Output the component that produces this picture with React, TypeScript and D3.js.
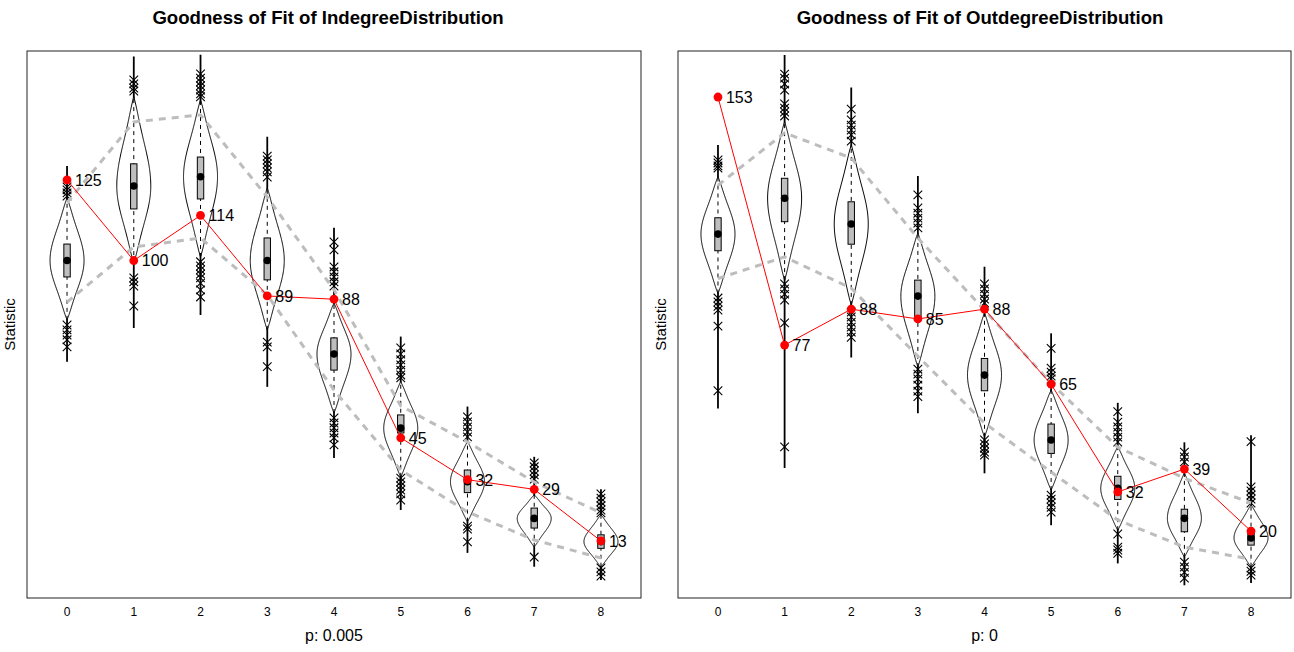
import React from 'react';
import * as d3 from 'd3';

const categories = ['0', '1', '2', '3', '4', '5', '6', '7', '8'];
const categoryValues = [0, 1, 2, 3, 4, 5, 6, 7, 8];

// ---- Indegree distribution ----
const inTitle = 'Goodness of Fit of IndegreeDistribution';
const inXLabel = 'p: 0.005';
const inYDomain = [-4.7, 165.0];
const inObserved = [125, 100, 114, 89, 88, 45, 32, 29, 13];
const inRangeLow = [68.6, 79.1, 83.1, 60.8, 38.7, 22.6, 9.3, 5.0, 0.9];
const inRangeHigh = [129.3, 163.3, 163.8, 138.4, 110.2, 76.4, 54.7, 39.1, 29.0];
const inViolinLow = [81.6, 99.2, 101.1, 78.5, 52.7, 32.9, 19.0, 11.2, 5.0];
const inViolinHigh = [119.4, 150.8, 149.8, 122.5, 86.8, 62.4, 43.8, 27.3, 21.1];
const inQ1 = [94.9, 116.0, 119.1, 94.0, 66.0, 46.5, 28.0, 17.0, 10.7];
const inMedian = [100.0, 123.1, 126.0, 100.0, 71.0, 48.0, 31.4, 20.0, 12.8];
const inQ3 = [105.1, 130.0, 132.1, 107.0, 76.0, 52.1, 35.0, 23.2, 14.9];
const inUpperBand = [117.9, 143.0, 145.2, 119.7, 90.9, 54.9, 43.7, 31.3, 21.7];
const inLowerBand = [87.1, 104.2, 107.0, 89.3, 59.8, 35.0, 22.0, 13.3, 7.7];
const inOutliers = [
  [122.8, 121.9, 121.0, 120.0, 80.0, 78.5, 76.9, 75.4, 73.2],
  [156.0, 154.8, 153.5, 152.6, 94.6, 93.4, 92.1, 85.9],
  [157.9, 156.6, 155.4, 154.2, 152.9, 151.7, 150.8, 99.6, 98.3, 97.1, 95.8, 94.6, 93.0, 90.9, 88.7],
  [132.4, 131.2, 130.0, 128.7, 127.5, 125.9, 74.7, 73.2, 67.1],
  [105.8, 103.3, 98.0, 96.5, 94.9, 93.4, 92.1, 51.2, 49.6, 48.1, 46.5, 45.0, 42.8],
  [72.9, 71.0, 69.2, 67.6, 66.0, 64.5, 63.6, 32.5, 31.3, 30.1, 28.8, 27.6, 25.7],
  [51.5, 49.9, 48.4, 46.8, 45.3, 17.6, 16.7, 12.7],
  [37.2, 36.0, 34.7, 33.5, 32.2, 8.0],
  [27.6, 26.3, 25.1, 23.9, 22.6, 21.7, 4.6, 3.4, 2.1],
];

// ---- Outdegree distribution ----
const outTitle = 'Goodness of Fit of OutdegreeDistribution';
const outXLabel = 'p: 0';
const outYDomain = [-0.5, 167.1];
const outObserved = [153, 77, 88, 85, 88, 65, 32, 39, 20];
const outRangeLow = [57.6, 39.3, 73.2, 56.1, 37.7, 21.8, 10.1, 3.4, 4.1];
const outRangeHigh = [138.3, 165.9, 155.9, 128.8, 101.0, 80.6, 59.3, 47.2, 49.4];
const outViolinLow = [92.8, 96.9, 89.3, 70.3, 48.9, 32.6, 20.3, 12.1, 9.1];
const outViolinHigh = [128.6, 145.4, 138.3, 111.3, 86.8, 63.2, 45.8, 37.7, 28.0];
const outQ1 = [105.9, 114.8, 107.9, 85.0, 63.0, 43.8, 29.7, 19.8, 15.7];
const outMedian = [111.0, 122.0, 114.1, 92.0, 67.8, 47.9, 33.1, 23.9, 17.9];
const outQ3 = [116.0, 128.1, 120.9, 96.9, 72.9, 52.8, 36.8, 26.7, 20.3];
const outUpperBand = [126.0, 142.0, 134.3, 109.8, 87.7, 65.3, 45.7, 36.2, 28.6];
const outLowerBand = [97.4, 104.0, 94.4, 73.6, 53.1, 38.1, 23.4, 15.1, 11.4];
const outOutliers = [
  [133.7, 132.8, 131.9, 131.2, 91.4, 90.2, 88.9, 87.7, 82.8, 63.0],
  [160.0, 158.8, 157.0, 155.1, 150.9, 149.6, 148.4, 147.2, 95.7, 94.2, 92.6, 90.8, 83.8, 45.8],
  [149.3, 146.0, 144.4, 142.9, 141.4, 139.5, 87.1, 85.6, 84.0, 82.5, 81.0, 79.4],
  [123.0, 119.0, 117.4, 115.9, 114.4, 112.9, 69.6, 68.1, 66.6, 64.7, 62.9, 61.2],
  [95.7, 94.2, 92.6, 91.1, 89.9, 47.9, 46.7, 45.4, 44.2, 43.3],
  [76.0, 69.9, 68.7, 67.5, 66.6, 31.0, 29.8, 28.6, 27.3, 25.8],
  [56.6, 53.4, 51.9, 50.3, 48.8, 47.3, 19.1, 15.1, 14.2, 13.2],
  [44.2, 42.7, 41.2, 10.5, 9.0, 7.4, 5.6],
  [47.4, 33.5, 32.3, 31.0, 29.8, 28.6, 8.7, 7.7, 6.5],
];

const FONT = '"Liberation Sans", Arial, Helvetica, sans-serif';
const PLOT_TOP = 51;
const PLOT_BOTTOM = 598;

type PanelProps = {
  x0: number;
  x1: number;
  titleX: number;
  title: string;
  xLabel: string;
  yDomain: number[];
  observed: number[];
  rangeLow: number[];
  rangeHigh: number[];
  violinLow: number[];
  violinHigh: number[];
  q1: number[];
  median: number[];
  q3: number[];
  upper: number[];
  lower: number[];
  outliers: number[][];
};

// relative half-width of the violin outline between its ends (bell shape with thin tails)
function violinWidth(v: number, lo: number, med: number, hi: number): number {
  const t = v >= med ? (v - med) / Math.max(hi - med, 1e-6) : (med - v) / Math.max(med - lo, 1e-6);
  const tc = Math.min(1, Math.max(0, t));
  return Math.exp(-2.1 * tc * tc) * (1 - Math.pow(tc, 12));
}

function Panel(p: PanelProps) {
  const x = d3.scaleLinear().domain([-0.6, 8.6]).range([p.x0, p.x1]);
  const y = d3.scaleLinear().domain(p.yDomain).range([PLOT_BOTTOM, PLOT_TOP]);
  const halfW = 17;
  const boxHalf = 3.2;

  const bandLine = d3
    .line<number>()
    .x((_, i) => x(categoryValues[i]))
    .y((d) => y(d));

  const violins = categoryValues.map((c, i) => {
    const lo = p.violinLow[i];
    const hi = p.violinHigh[i];
    const med = p.median[i];
    const samples = d3.range(0, 161).map((k) => lo + ((hi - lo) * k) / 160);
    const area = d3
      .area<number>()
      .y((v) => y(v))
      .x0((v) => x(c) - halfW * violinWidth(v, lo, med, hi))
      .x1((v) => x(c) + halfW * violinWidth(v, lo, med, hi))
      .curve(d3.curveBasis);
    return area(samples) as string;
  });

  const xm = 4.3;
  return (
    <g>
      <text
        x={p.titleX}
        y={24}
        textAnchor="middle"
        fontFamily={FONT}
        fontWeight="bold"
        fontSize={18.6}
        fill="#000"
      >
        {p.title}
      </text>
      <text
        transform={`translate(${p.x0 - 12},${(PLOT_TOP + PLOT_BOTTOM) / 2}) rotate(-90)`}
        textAnchor="middle"
        fontFamily={FONT}
        fontSize={15}
        fill="#000"
      >
        Statistic
      </text>
      {categories.map((lab, i) => (
        <text
          key={lab}
          x={x(categoryValues[i])}
          y={616}
          textAnchor="middle"
          fontFamily={FONT}
          fontSize={12}
          fill="#000"
        >
          {lab}
        </text>
      ))}
      <text
        x={(p.x0 + p.x1) / 2}
        y={641}
        textAnchor="middle"
        fontFamily={FONT}
        fontSize={16}
        fill="#000"
      >
        {p.xLabel}
      </text>

      {/* full range lines */}
      {categoryValues.map((c, i) => (
        <line
          key={'r' + i}
          x1={x(c)}
          x2={x(c)}
          y1={y(p.rangeLow[i])}
          y2={y(p.rangeHigh[i])}
          stroke="#000"
          strokeWidth={1.8}
        />
      ))}
      {/* violins */}
      {violins.map((d, i) => (
        <path key={'v' + i} d={d} fill="#fff" stroke="#000" strokeWidth={1} />
      ))}
      {/* dashed inner lines */}
      {categoryValues.map((c, i) => (
        <line
          key={'d' + i}
          x1={x(c)}
          x2={x(c)}
          y1={y(p.violinLow[i])}
          y2={y(p.violinHigh[i])}
          stroke="#000"
          strokeWidth={1}
          strokeDasharray="4,4"
        />
      ))}
      {/* boxes */}
      {categoryValues.map((c, i) => (
        <rect
          key={'b' + i}
          x={x(c) - boxHalf}
          y={y(p.q3[i])}
          width={boxHalf * 2}
          height={y(p.q1[i]) - y(p.q3[i])}
          fill="#bebebe"
          stroke="#000"
          strokeWidth={1}
        />
      ))}
      {categoryValues.map((c, i) => (
        <circle key={'m' + i} cx={x(c)} cy={y(p.median[i])} r={3.8} fill="#000" />
      ))}
      {/* outliers */}
      {categoryValues.map((c, i) =>
        p.outliers[i].map((v, j) => {
          const cx = x(c);
          const cy = y(v);
          return (
            <path
              key={'o' + i + '_' + j}
              d={`M${cx - xm},${cy - xm}L${cx + xm},${cy + xm}M${cx - xm},${cy + xm}L${cx + xm},${cy - xm}`}
              stroke="#000"
              strokeWidth={1.1}
              fill="none"
            />
          );
        })
      )}
      {/* percentile bands */}
      <path d={bandLine(p.upper) as string} fill="none" stroke="#bdbdbd" strokeWidth={3} strokeDasharray="7,6" />
      <path d={bandLine(p.lower) as string} fill="none" stroke="#bdbdbd" strokeWidth={3} strokeDasharray="7,6" />
      {/* observed */}
      <path d={bandLine(p.observed) as string} fill="none" stroke="#ff0000" strokeWidth={1} />
      {categoryValues.map((c, i) => (
        <circle key={'p' + i} cx={x(c)} cy={y(p.observed[i])} r={4.4} fill="#ff0000" />
      ))}
      {categoryValues.map((c, i) => (
        <text
          key={'t' + i}
          x={x(c) + 8}
          y={y(p.observed[i]) + 5.8}
          fontFamily={FONT}
          fontSize={16}
          fill="#000"
        >
          {p.observed[i]}
        </text>
      ))}
      <rect
        x={p.x0}
        y={PLOT_TOP}
        width={p.x1 - p.x0}
        height={PLOT_BOTTOM - PLOT_TOP}
        fill="none"
        stroke="#222"
        strokeWidth={1}
      />
    </g>
  );
}

export default function App() {
  return (
    <svg
      width={1294}
      height={652}
      style={{ position: 'absolute', left: 0, top: 0, background: '#fff' }}
    >
      <rect x={0} y={0} width={1294} height={652} fill="#fff" />
      <Panel
        x0={27}
        x1={641}
        titleX={328}
        title={inTitle}
        xLabel={inXLabel}
        yDomain={inYDomain}
        observed={inObserved}
        rangeLow={inRangeLow}
        rangeHigh={inRangeHigh}
        violinLow={inViolinLow}
        violinHigh={inViolinHigh}
        q1={inQ1}
        median={inMedian}
        q3={inQ3}
        upper={inUpperBand}
        lower={inLowerBand}
        outliers={inOutliers}
      />
      <Panel
        x0={678}
        x1={1291}
        titleX={980}
        title={outTitle}
        xLabel={outXLabel}
        yDomain={outYDomain}
        observed={outObserved}
        rangeLow={outRangeLow}
        rangeHigh={outRangeHigh}
        violinLow={outViolinLow}
        violinHigh={outViolinHigh}
        q1={outQ1}
        median={outMedian}
        q3={outQ3}
        upper={outUpperBand}
        lower={outLowerBand}
        outliers={outOutliers}
      />
    </svg>
  );
}
